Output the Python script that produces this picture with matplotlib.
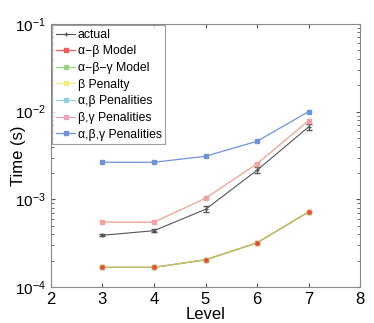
import matplotlib
matplotlib.use('Agg')
import matplotlib.pyplot as plt

plt.rcParams['font.family'] = ['Liberation Sans', 'DejaVu Sans']

levels = [3, 4, 5, 6, 7]

actual = [3.9e-4, 4.4e-4, 7.7e-4, 2.15e-3, 6.7e-3]
actual_err = [1.0e-5, 1.5e-5, 6.0e-5, 1.6e-4, 5.0e-4]
ab_model = [1.68e-4, 1.68e-4, 2.05e-4, 3.2e-4, 7.2e-4]
abg_model = [1.68e-4, 1.68e-4, 2.05e-4, 3.2e-4, 7.2e-4]
b_penalty = [5.5e-4, 5.5e-4, 1.03e-3, 2.55e-3, 7.9e-3]
ab_penalties = [1.68e-4, 1.68e-4, 2.05e-4, 3.2e-4, 7.2e-4]
bg_penalties = [5.5e-4, 5.5e-4, 1.03e-3, 2.55e-3, 7.9e-3]
abg_penalties = [2.65e-3, 2.65e-3, 3.1e-3, 4.6e-3, 1.0e-2]

series = [
    ('α−β Model', ab_model, '#e8463f', 1.0),
    ('α−β−γ Model', abg_model, '#9bd37e', 0.8),
    ('β Penalty', b_penalty, '#f3e06a', 0.7),
    ('α,β Penalities', ab_penalties, '#c8cf5a', 0.6),
    ('β,γ Penalities', bg_penalties, '#eea0a8', 0.9),
    ('α,β,γ Penalities', abg_penalties, '#6f93d8', 1.0),
]
legend_colors = ['#f05a5a', '#9bd37e', '#f3ec80', '#8fd3df', '#eea0c0', '#6f93d8']


def main():
    fig = plt.figure(figsize=(3.74, 3.23), dpi=100)
    ax = fig.add_axes([0.136, 0.111, 0.827, 0.815])

    ax.errorbar(levels, actual, yerr=actual_err, color='#555555', lw=0.8,
                marker='+', ms=3, capsize=2, elinewidth=0.7)
    handles = []
    h, = ax.plot([], [], color='#555555', lw=0.8, marker='+', ms=3, label='actual')
    handles.append(h)
    for (name, vals, col, a), lcol in zip(series, legend_colors):
        ax.plot(levels, vals, color=col, lw=0.9, alpha=a, marker='s', ms=2.2)
        h, = ax.plot([], [], color=lcol, lw=0.9, marker='s', ms=2.2, label=name)
        handles.append(h)
    # red markers sit on top of the bottom line
    ax.plot(levels, ab_model, ls='none', marker='o', ms=2.3, color='#e8463f')

    ax.set_yscale('log')
    ax.set_ylim(1e-4, 1e-1)
    ax.set_xlim(2, 8)
    ax.set_xticks([2, 3, 4, 5, 6, 7, 8])
    ax.set_xlabel('Level', fontsize=12, labelpad=0)
    ax.set_ylabel('Time (s)', fontsize=12)
    ax.yaxis.set_label_coords(-0.08, 0.5)
    ax.tick_params(which='both', direction='in', top=True, right=True,
                   color='#555555')
    ax.tick_params(axis='x', labelsize=12)
    ax.tick_params(axis='y', labelsize=11)
    ax.tick_params(which='major', length=3)
    ax.tick_params(which='minor', length=2)
    for s in ax.spines.values():
        s.set_color('#888888')

    leg = ax.legend(handles=handles, loc='upper left', fontsize=8.8,
                    frameon=True, fancybox=False, borderaxespad=0.1,
                    handlelength=1.6, handletextpad=0.2,
                    labelspacing=0.38, borderpad=0.3)
    leg.get_frame().set_edgecolor('#888888')
    leg.get_frame().set_linewidth(0.8)

    fig.savefig('out.png', dpi=100)


if __name__ == "__main__":
    main()
